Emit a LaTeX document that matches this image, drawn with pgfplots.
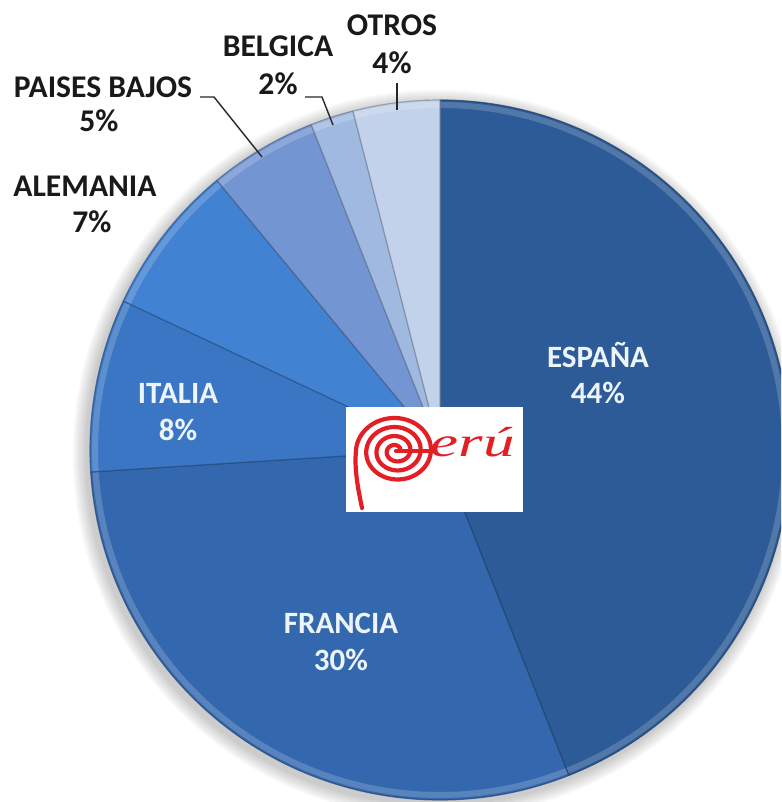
\documentclass[border=0pt]{standalone}
\usepackage{pgfplots}
\pgfplotsset{compat=1.18}
\usepackage{pgfplotstable}
\usepackage{fontspec}
\setmainfont{Carlito}
\newfontfamily\logofont{Liberation Serif}

\definecolor{cEsp}{HTML}{2C5B97}
\definecolor{cFra}{HTML}{3468AE}
\definecolor{cIta}{HTML}{3A76C4}
\definecolor{cAle}{HTML}{4282D2}
\definecolor{cPB}{HTML}{7396D2}
\definecolor{cBel}{HTML}{A0B9E1}
\definecolor{cOtr}{HTML}{C3D2EB}
\definecolor{peruRed}{HTML}{E31E24}
\definecolor{lblW}{HTML}{EEF4FB}

\pgfplotstableread{
valor color
44 cEsp
30 cFra
8 cIta
7 cAle
5 cPB
2 cBel
4 cOtr
}\datos

\begin{document}
\begin{tikzpicture}
\begin{axis}[scale only axis, width=390.5pt, height=401pt,
  xmin=0, xmax=781, ymin=0, ymax=802, y dir=reverse,
  hide axis, clip=true]
\pgfplotsextra{
  % soft shadow
  \foreach \k in {1,...,7}{
    \fill[black, opacity=0.03] (axis cs:437,454) circle[radius=175pt+\k pt];
  }
  \gdef\cum{0}
  \foreach \i in {0,...,6}{
    \pgfplotstablegetelem{\i}{valor}\of\datos \let\val\pgfplotsretval
    \pgfplotstablegetelem{\i}{color}\of\datos \let\col\pgfplotsretval
    \pgfmathsetmacro\aS{90-3.6*\cum}
    \pgfmathsetmacro\aE{90-3.6*(\cum+\val)}
    \fill[\col] (axis cs:440,450) -- ++(\aS:175pt) arc[start angle=\aS, end angle=\aE, radius=175pt] -- cycle;
    \draw[white, opacity=0.18, line width=3pt] (axis cs:440,450) ++(\aS:172.5pt) arc[start angle=\aS, end angle=\aE, radius=172.5pt];
    \draw[\col!65!black, opacity=0.7, line width=0.6pt, line join=round] (axis cs:440,450) -- ++(\aS:175pt) arc[start angle=\aS, end angle=\aE, radius=175pt] -- cycle;
    \pgfmathsetmacro\newcum{\cum+\val}
    \xdef\cum{\newcum}
  }
  % leader lines
  \draw[black!85, line width=0.7pt] (axis cs:200,97) -- (axis cs:214,97) -- (axis cs:262,157);
  \draw[black!85, line width=0.7pt] (axis cs:305,97) -- (axis cs:322,97) -- (axis cs:333,125);
  \draw[black!85, line width=0.7pt] (axis cs:397,83) -- (axis cs:397,110);
  % logo box
  \fill[white] (axis cs:346,407) rectangle (axis cs:523,512);
}
\coordinate (logoC) at (axis cs:396,451);
\tikzset{lin/.style={anchor=base, inner sep=0pt, font=\bfseries\fontsize{15.5}{18}\selectfont, text=lblW},
         lout/.style={anchor=base, inner sep=0pt, font=\bfseries\fontsize{15.8}{18}\selectfont, text=black!90}}
\node[lin] at (axis cs:598,367) {ESPAÑA};
\node[lin] at (axis cs:598,403) {44\%};
\node[lin] at (axis cs:341,633) {FRANCIA};
\node[lin] at (axis cs:341,670) {30\%};
\node[lin] at (axis cs:178,403) {ITALIA};
\node[lin] at (axis cs:178,440) {8\%};
\node[lout] at (axis cs:85,197) {ALEMANIA};
\node[lout] at (axis cs:92,233) {7\%};
\node[lout] at (axis cs:103,98) {PAISES BAJOS};
\node[lout] at (axis cs:99,132) {5\%};
\node[lout] at (axis cs:278,57) {BELGICA};
\node[lout] at (axis cs:278,95) {2\%};
\node[lout] at (axis cs:392,36) {OTROS};
\node[lout] at (axis cs:392,74) {4\%};
\end{axis}
\begin{scope}[shift={(logoC)}, x=0.5pt, y=0.5pt]
  \draw[peruRed, line width=2.1pt, line cap=round] plot[domain=0:1260, samples=250, smooth, variable=\t]
     ({(4+10.3*\t/360)*cos(\t)}, {0.88*(4+10.3*\t/360)*sin(\t)})
     .. controls (-42,-20) and (-37,-42) .. (-34,-57);
  \draw[peruRed, line width=2.1pt, line cap=round] (0,0) -- (38,0);
  \node[anchor=base west, text=peruRed, inner sep=0pt, xscale=1.5,
        font=\logofont\itshape\fontsize{21}{24}\selectfont] at (34,-6) {erú};
\end{scope}
\pgfresetboundingbox
\path (current axis.south west) rectangle (current axis.north east);
\end{tikzpicture}
\end{document}
